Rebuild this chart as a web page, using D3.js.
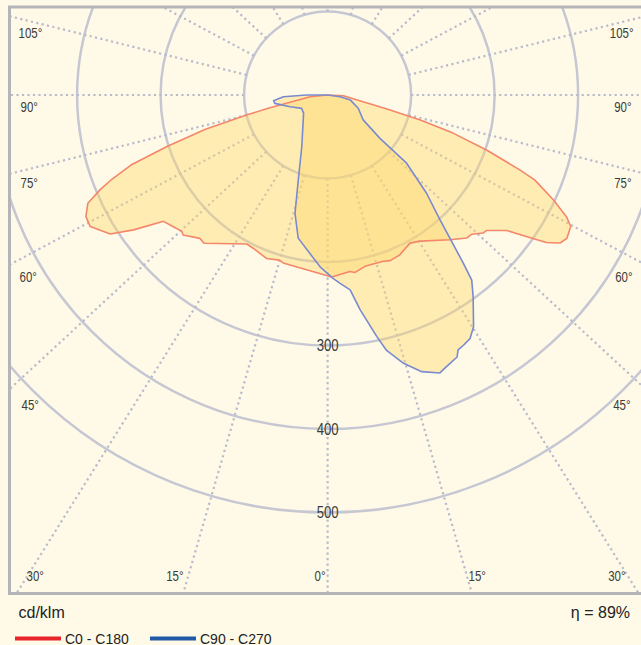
<!DOCTYPE html>
<html lang="en">
<head>
<meta charset="utf-8">
<script src="https://cdn.jsdelivr.net/npm/d3@7"></script>
<style>
  body {margin:0; background:#fffae7;}
  svg {display:block;}
  .tick-label {font-family:"Liberation Sans",Arial,sans-serif; fill:#3a3a3a;}
  .legend {font-family:"Liberation Sans",Arial,sans-serif; fill:#222;}
</style>
</head>
<body>
<script>
// luminous intensity in cd/klm, gamma in degrees from nadir (C180 / C270 side negative)
const c0Gamma = [-180,-84.5,-77.4,-76.1,-74.3,-72.2,-70.4,-68.7,-67.4,-65.7,-63.3,-61,-57.4,-55.2,-52.4,-49.5,-46.9,-45.9,-41.7,-39.8,-28.5,-25.9,-20.5,-16.3,-14.8,
                 1.3,7.2,8.8,12.3,18.5,20.7,24.3,29.1,32.3,40.2,44.2,46,48.4,49.5,52.9,54.6,56,57.5,59.1,61.6,63,65.1,67.7,68.7,70.9,73.1,74.9,76.5,87.4,180];
const c0Value = [0,21,73,100,152,202,250,277,295,315,324,325,309,283,248,243,239,241,230,231,203,204,209,206,208,
                 218,213,215,210,210,212,210,203,207,227,239,240,249,250,269,293,316,330,334,331,321,298,268,247,202,157,115,77,19,0];

const c90Gamma = [-180,-90,-87.8,-84,-81,-72.7,-62.8,-53,-26.6,-19,-15.4,-11.6,-2.5,
                  1.8,3.8,6.6,8.6,11.5,13,15.8,18.8,22,23.7,26.3,27.1,28.5,30.3,32.2,35.8,37.9,38.9,42,45.2,49.2,50.4,55,66.6,77.4,82.2,180];
const c90Value = [0,25,53,65,64,47,35,36,69,108,147,175,206,
                  220,226,235,260,295,314,334,350,359,355,350,343,341,338,328,298,281,259,201,167,125,81,52,40,28,15,0];

const ringValues = [100, 200, 300, 400, 500];
const ringLabels = [300, 400, 500];
const spokeAngles = d3.range(-165, 181, 15);
const angleLabels = [0, 15, 30, 45, 60, 75, 90, 105];
const seriesNames = ["C0 - C180", "C90 - C270"];
const unitText = "cd/klm";
const efficiencyText = "η = 89%";

const W = 641, H = 645;
const frame = {x0: 9.5, y0: 7, x1: 646, y1: 593.5};
const cx = 327.6, cy = 95;
const squash = 0.925;   // spokes in the original are slightly flattened
const narrow = 0.82;    // condensed look of the grid labels

const r = d3.scaleLinear().domain([0, 100]).range([0, 83.5]);

const svg = d3.select("body").append("svg")
    .attr("width", W).attr("height", H);

svg.append("rect").attr("width", W).attr("height", H).attr("fill", "#fffae7");

svg.append("clipPath").attr("id", "clip")
  .append("rect")
    .attr("x", frame.x0).attr("y", frame.y0)
    .attr("width", frame.x1 - frame.x0).attr("height", frame.y1 - frame.y0);

const plot = svg.append("g").attr("clip-path", "url(#clip)");
const g = plot.append("g").attr("transform", `translate(${cx},${cy})`);

// rings
g.selectAll("circle.ring")
  .data(ringValues)
  .enter().append("circle")
    .attr("class", "ring")
    .attr("r", d => r(d))
    .attr("fill", "none")
    .attr("stroke", "#c6c7d3")
    .attr("stroke-width", 2.5);

// spokes
function dir(a) {
  const t = a * Math.PI / 180;
  const dx = Math.sin(t), dy = squash * Math.cos(t);
  const n = Math.hypot(dx, dy);
  return [dx / n, dy / n];
}
g.selectAll("line.spoke")
  .data(spokeAngles)
  .enter().append("line")
    .attr("class", "spoke")
    .attr("x1", d => dir(d)[0] * r(100))
    .attr("y1", d => dir(d)[1] * r(100))
    .attr("x2", d => dir(d)[0] * 1200)
    .attr("y2", d => dir(d)[1] * 1200)
    .attr("stroke", "#b7bbcc")
    .attr("stroke-width", 2.2)
    .attr("stroke-dasharray", "2.2,3.3");

// ring labels
g.selectAll("text.ring-label")
  .data(ringLabels)
  .enter().append("text")
    .attr("class", "tick-label")
    .attr("transform", d => `translate(0,${r(d) + 5.5}) scale(${narrow},1)`)
    .attr("text-anchor", "middle")
    .style("font-size", "16px")
    .text(d => d);

// curves
const radial = d3.lineRadial()
    .angle(d => Math.PI - d[0] * Math.PI / 180)
    .radius(d => r(d[1]))
    .curve(d3.curveLinearClosed);

const c0 = c0Gamma.map((a, i) => [a, c0Value[i]]);
const c90 = c90Gamma.map((a, i) => [a, c90Value[i]]);

g.append("path").attr("d", radial(c0)).attr("fill", "#ffd766").attr("fill-opacity", 0.4);
g.append("path").attr("d", radial(c90)).attr("fill", "#ffd766").attr("fill-opacity", 0.4);
g.append("path").attr("d", radial(c0)).attr("fill", "none")
    .attr("stroke", "#f4866a").attr("stroke-width", 1.6).attr("stroke-linejoin", "round");
g.append("path").attr("d", radial(c90)).attr("fill", "none")
    .attr("stroke", "#7a8ad0").attr("stroke-width", 1.6).attr("stroke-linejoin", "round");

// angle labels (left side positions, mirrored for the right)
const leftPlace = {
  105: {x: 18.5, y: 37.5, anchor: "start"},
  90:  {x: 20.5, y: 112,  anchor: "start"},
  75:  {x: 20.5, y: 187.5, anchor: "start"},
  60:  {x: 19.5, y: 281.5, anchor: "start"},
  45:  {x: 21.5, y: 409.5, anchor: "start"},
  30:  {x: 26.5, y: 580.5, anchor: "start"},
  15:  {x: 183.5, y: 580.5, anchor: "end"},
  0:   {x: 325.5, y: 580.5, anchor: "end"}
};
const labelData = [];
angleLabels.forEach(a => {
  const p = leftPlace[a];
  labelData.push({a: a, x: p.x, y: p.y, anchor: p.anchor});
  if (a !== 0) {
    labelData.push({a: a, x: 2 * 326 - p.x, y: p.y, anchor: p.anchor === "start" ? "end" : "start"});
  }
});
svg.selectAll("text.angle")
  .data(labelData)
  .enter().append("text")
    .attr("class", "tick-label")
    .attr("transform", d => `translate(${d.x},${d.y}) scale(${narrow},1)`)
    .attr("text-anchor", d => d.anchor)
    .style("font-size", "14px")
    .text(d => d.a + "°");

// frame
svg.append("rect")
    .attr("x", frame.x0).attr("y", frame.y0)
    .attr("width", frame.x1 - frame.x0).attr("height", frame.y1 - frame.y0)
    .attr("fill", "none")
    .attr("stroke", "#b4b4b9")
    .attr("stroke-width", 3);

// footer
svg.append("text").attr("class", "legend")
    .attr("x", 18.5).attr("y", 617.5)
    .style("font-size", "16px")
    .text(unitText);
svg.append("text").attr("class", "legend")
    .attr("x", 630).attr("y", 617.5)
    .attr("text-anchor", "end")
    .style("font-size", "16px")
    .text(efficiencyText);

const legendColors = ["#e8252b", "#1f5aa6"];
const lg = svg.selectAll("g.key")
  .data(seriesNames)
  .enter().append("g")
    .attr("class", "key")
    .attr("transform", (d, i) => `translate(${15 + i * 135},0)`);
lg.append("rect")
    .attr("x", 0).attr("y", 636.5)
    .attr("width", 46).attr("height", 4)
    .attr("fill", (d, i) => legendColors[i]);
lg.append("text").attr("class", "legend")
    .attr("x", 50).attr("y", 643.5)
    .style("font-size", "14px")
    .text(d => d);
</script>
</body>
</html>
